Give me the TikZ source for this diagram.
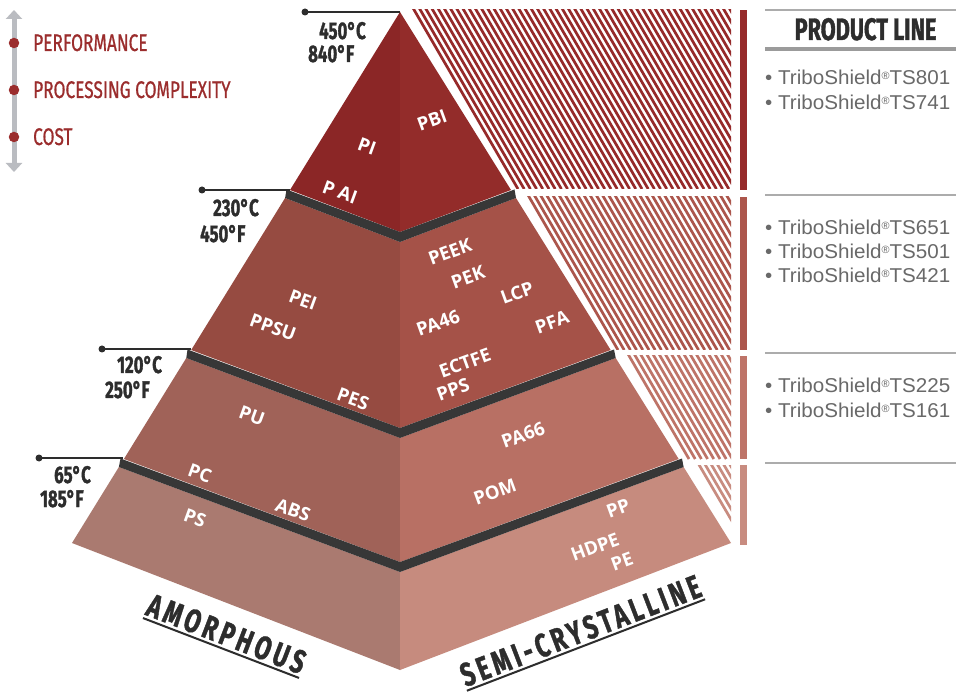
\documentclass[tikz,border=0pt]{standalone}
\usepackage{fontspec}
\usetikzlibrary{arrows.meta}
\setmainfont{Fira Sans}
\newfontfamily\labf{Open Sans}
\newfontfamily\condf[FakeStretch=0.7, BoldFeatures={FakeBold=1.2}]{Fira Sans}
\newfontfamily\legf[FakeStretch=0.72, FakeBold=0.6]{Fira Sans}
\newfontfamily\widecond[FakeStretch=0.7,LetterSpace=12, BoldFeatures={FakeBold=1.2}]{Fira Sans}
\newfontfamily\listf[FakeStretch=1.03]{Liberation Sans}
\definecolor{lA}{RGB}{139,38,38}
\definecolor{rA}{RGB}{147,44,42}
\definecolor{lB}{RGB}{150,75,65}
\definecolor{rB}{RGB}{165,82,72}
\definecolor{lC}{RGB}{160,98,88}
\definecolor{rC}{RGB}{184,112,100}
\definecolor{lD}{RGB}{170,122,112}
\definecolor{rD}{RGB}{198,139,126}
\definecolor{bandc}{RGB}{55,55,55}
\definecolor{hA}{RGB}{150,42,42}
\definecolor{hB}{RGB}{172,86,76}
\definecolor{hC}{RGB}{190,116,104}
\definecolor{hD}{RGB}{200,140,128}
\definecolor{legred}{RGB}{155,45,45}
\definecolor{txtdark}{RGB}{45,45,45}
\definecolor{listgray}{RGB}{105,105,105}
\definecolor{linegray}{RGB}{172,172,172}
\definecolor{arrowgray}{RGB}{186,188,193}
\newcommand\regmark{{\fontsize{10.5}{10.5}\selectfont\raisebox{5.5pt}{®}}}
\tikzset{
  lab/.style={text=white, font=\labf\bfseries\fontsize{18.5}{18.5}\selectfont, inner sep=0pt},
  temp/.style={text=txtdark, font=\condf\bfseries\fontsize{24}{24}\selectfont, anchor=base west, inner sep=0pt},
  legend/.style={text=legred, font=\legf\fontsize{24}{24}\selectfont, anchor=base west, inner sep=0pt},
  item/.style={text=listgray, font=\listf\fontsize{20}{20}\selectfont, anchor=base west, inner sep=0pt},
  bottomlab/.style={text=txtdark, font=\widecond\bfseries\fontsize{33}{33}\selectfont, inner xsep=0pt, inner ysep=3pt, anchor=south},
  uline/.style={draw=txtdark, line width=2pt},
  tline/.style={draw=txtdark, line width=2.5pt},
  tdot/.style={circle, fill=txtdark, minimum size=7pt, inner sep=0pt},
  ldot/.style={circle, fill=legred, minimum size=10.5pt, inner sep=0pt},
  band/.style={fill=bandc},
  stripe/.style={line width=2.7pt},
  thinrule/.style={draw=linegray, line width=2pt},
}
\begin{document}
\begin{tikzpicture}[x=1pt,y=-1pt]
\useasboundingbox (0,0) rectangle (956,692);
\fill[white] (0,0) rectangle (956,692);

% ---------- hatching ----------
\begin{scope}
\clip (411,10) rectangle (731,189);
\foreach \i in {0,...,52} \draw[stripe,hA] (413+\i*6.2,8) -- ++(105,181);
\end{scope}
\begin{scope}
\clip (526,197) rectangle (731,350);
\foreach \i in {0,...,34} \draw[stripe,hB] (528+\i*6.2,195) -- ++(90,155);
\end{scope}
\begin{scope}
\clip (626,356) rectangle (731,459);
\foreach \i in {0,...,18} \draw[stripe,hC] (628+\i*6.2,354) -- ++(61,105);
\end{scope}
\begin{scope}
\clip (696,465) rectangle (731,545);
\foreach \i in {0,...,6} \draw[stripe,hD] (698+\i*6.2,463) -- ++(48,82);
\end{scope}

% ---------- pyramid faces ----------
\fill[lA] (400,12) -- (290,190) -- (400,232) -- cycle;
\fill[rA] (400,12) -- (511,190) -- (400,232) -- cycle;
\fill[lB] (285.1,198) -- (191.2,350) -- (400,428) -- (400,242) -- cycle;
\fill[rB] (516,198) -- (610.7,350) -- (400,428) -- (400,242) -- cycle;
\fill[lC] (186.3,358) -- (123.9,459) -- (400,562) -- (400,438) -- cycle;
\fill[rC] (615.7,358) -- (678.7,459) -- (400,562) -- (400,438) -- cycle;
\fill[lD] (118.9,467) -- (72,543) -- (400,670) -- (400,572) -- cycle;
\fill[rD] (683.6,467) -- (731,543) -- (400,670) -- (400,572) -- cycle;

% ---------- dark bands ----------
\fill[band] (286.5,189.5) -- (400,232) -- (514.5,189.5) -- (516,198) -- (400,242) -- (285.1,198) -- cycle;
\fill[band] (187.5,349.5) -- (400,428) -- (614,349.5) -- (615.7,358) -- (400,438) -- (186.3,358) -- cycle;
\fill[band] (120.5,458.5) -- (400,562) -- (682,458.5) -- (683.6,467) -- (400,572) -- (118.9,467) -- cycle;

% ---------- pyramid labels ----------
\node[lab, rotate=-20] (pi) at (367,146) {PI};
\node[lab, rotate=20] (pbi) at (432,120) {PBI};
\node[lab, rotate=-20] (pai) at (340,192) {P AI};
\node[lab, rotate=-20] (pei) at (303,300) {PEI};
\node[lab, rotate=-20] (ppsu) at (273,327) {PPSU};
\node[lab, rotate=-20] (pes) at (353,399) {PES};
\node[lab, rotate=20] (peek) at (450,252) {PEEK};
\node[lab, rotate=20] (pek) at (468,277) {PEK};
\node[lab, rotate=20] (lcp) at (517,293) {LCP};
\node[lab, rotate=20] (pa46) at (438,323) {PA46};
\node[lab, rotate=20] (pfa) at (552,322) {PFA};
\node[lab, rotate=20] (ectfe) at (465,363) {ECTFE};
\node[lab, rotate=20] (pps) at (453,390) {PPS};
\node[lab, rotate=-20] (pu) at (252,416) {PU};
\node[lab, rotate=20] (pa66) at (523,435) {PA66};
\node[lab, rotate=20] (pom) at (495,492) {POM};
\node[lab, rotate=-20] (pc) at (200,473) {PC};
\node[lab, rotate=-20] (abs) at (293,510) {ABS};
\node[lab, rotate=-20] (ps) at (195,518) {PS};
\node[lab, rotate=20] (pp) at (618,508) {PP};
\node[lab, rotate=20] (hdpe) at (595,547) {HDPE};
\node[lab, rotate=20] (pe) at (622,562) {PE};

% ---------- temperature markers ----------
\node[tdot] (d1) at (305,12) {};
\coordinate (e1) at (400,12);
\draw[tline] (d1.center) -- (e1);
\node[tdot] (d2) at (202,190) {};
\coordinate (e2) at (290,190);
\draw[tline] (d2.center) -- (e2);
\node[tdot] (d3) at (102,349) {};
\coordinate (e3) at (191,349);
\draw[tline] (d3.center) -- (e3);
\node[tdot] (d4) at (39,458) {};
\coordinate (e4) at (123,458);
\draw[tline] (d4.center) -- (e4);

\node[temp] (t1c) at (319,39) {450°C};
\node[temp] (t1f) at (308,62) {840°F};
\node[temp] (t2c) at (213,216) {230°C};
\node[temp] (t2f) at (200,242) {450°F};
\node[temp] (t3c) at (117,373) {120°C};
\node[temp] (t3f) at (105,398) {250°F};
\node[temp] (t4c) at (54,483) {65°C};
\node[temp] (t4f) at (40,507) {185°F};

% ---------- legend ----------
\coordinate (atop) at (14,10);
\coordinate (abot) at (14,172);
\draw[arrowgray, line width=5pt, {Triangle[width=16pt,length=9pt]}-{Triangle[width=16pt,length=9pt]}] (atop) -- (abot);
\node[ldot] (g1) at (14,43) {};
\node[ldot] (g2) at (14,90) {};
\node[ldot] (g3) at (14,137) {};
\node[legend] (perf) at (33,51) {PERFORMANCE};
\node[legend] (proc) at (33,98) {PROCESSING COMPLEXITY};
\node[legend] (cost) at (33,145) {COST};

% ---------- bottom labels ----------
\node[bottomlab, rotate=-21] (amor) at (221,648) {AMORPHOUS};
\draw[uline] (amor.south west) -- (amor.south east);
\node[bottomlab, rotate=21] (semi) at (586,645) {SEMI-CRYSTALLINE};
\draw[uline] (semi.south west) -- (semi.south east);

% ---------- side bars ----------
\fill[hA] (740,10) rectangle (747,190);
\fill[hB] (740,197) rectangle (747,350);
\fill[hC] (740,356) rectangle (747,459);
\fill[hD] (740,465) rectangle (747,545);

% ---------- product line column ----------
\draw[thinrule] (765,10) -- (956,10);
\node[text=txtdark, font=\condf\bfseries\fontsize{31}{31}\selectfont, anchor=base, inner sep=0pt] (plh) at (865.5,40) {PRODUCT LINE};
\draw[draw=linegray!90!black, line width=4.5pt] (765,49) -- (956,49);
\node[item] (i1) at (765,85) {• TriboShield\regmark TS801};
\node[item] (i2) at (765,110) {• TriboShield\regmark TS741};
\draw[thinrule] (765,195) -- (956,195);
\node[item] (i3) at (765,235) {• TriboShield\regmark TS651};
\node[item] (i4) at (765,259) {• TriboShield\regmark TS501};
\node[item] (i5) at (765,283) {• TriboShield\regmark TS421};
\draw[thinrule] (765,353) -- (956,353);
\node[item] (i6) at (765,393) {• TriboShield\regmark TS225};
\node[item] (i7) at (765,418) {• TriboShield\regmark TS161};
\draw[thinrule] (765,463) -- (956,463);
\end{tikzpicture}
\end{document}
